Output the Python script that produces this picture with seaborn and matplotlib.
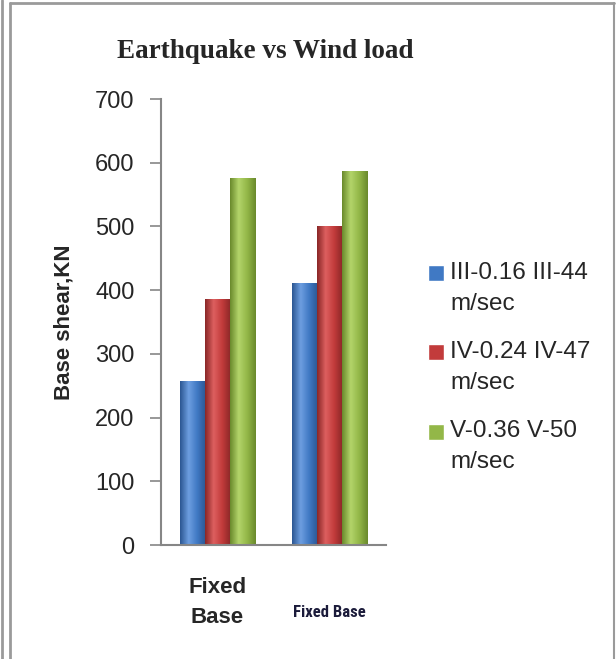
import numpy as np
import pandas as pd
import seaborn as sns
import matplotlib.pyplot as plt
from matplotlib.colors import LinearSegmentedColormap
from matplotlib.lines import Line2D
from matplotlib.patches import Rectangle
from matplotlib.legend_handler import HandlerPatch

# data
categories = ['Fixed\nBase', 'Fixed Base']
zones = ['III-0.16 III-44\nm/sec', 'IV-0.24 IV-47\nm/sec', 'V-0.36 V-50\nm/sec']
zone_iii = [257, 411]
zone_iv = [386, 500]
zone_v = [576, 587]
yticks = [0, 100, 200, 300, 400, 500, 600, 700]

colors = ['#4079c4', '#c23b3b', '#93b748']
dark = ['#2c5793', '#8a2727', '#6a8a2c']
light = ['#6d9ee0', '#dd5f5f', '#b3d46a']

df = pd.DataFrame({
    'base': categories * 3,
    'zone': [z for z in zones for _ in categories],
    'shear': zone_iii + zone_iv + zone_v,
})

sns.set_style('white')
plt.rcParams['font.family'] = ['Liberation Sans', 'DejaVu Sans']

fig = plt.figure(figsize=(6.16, 6.59), dpi=100)
ax = fig.add_axes([161 / 616, 1 - 545 / 659, 225 / 616, 446 / 659])

sns.barplot(data=df, x='base', y='shear', hue='zone', palette=colors,
            width=0.667, saturation=1, ax=ax, legend=True)
ax.set_ylim(0, 700)
ax.set_xlim(-0.5, 1.5)

# cylinder-ish shading on each bar
for i, p in enumerate(ax.patches[:6]):
    k = i // 2
    x0, y0 = p.get_x(), p.get_y()
    w, h = p.get_width(), p.get_height()
    cm = LinearSegmentedColormap.from_list('g', [dark[k], light[k], colors[k], dark[k]])
    grad = np.linspace(0, 1, 64).reshape(1, -1)
    im = ax.imshow(grad, extent=[x0, x0 + w, y0, y0 + h], cmap=cm,
                   aspect='auto', zorder=p.get_zorder() + 0.1)
    im.set_clip_path(p)
ax.set_ylim(0, 700)
ax.set_xlim(-0.5, 1.5)

ax.set_yticks(yticks)
ax.set_yticklabels([str(v) for v in yticks], fontsize=17)
ax.tick_params(axis='y', length=8, width=1.2, color='#868686', pad=11, left=True)
ax.tick_params(axis='x', length=0, pad=23)
ax.set_xticks([0, 1])
ax.set_xticklabels(categories)
lab = ax.get_xticklabels()
lab[0].set_fontsize(16)
lab[0].set_fontweight('bold')
lab[0].set_linespacing(1.55)
lab[1].set_family(['Roboto Condensed', 'Liberation Sans Narrow', 'Liberation Sans'])
lab[1].set_fontsize(12)
lab[1].set_fontweight('bold')
lab[1].set_color('#1b1b3a')
lab[1].set_y(-0.062)

for s in ['top', 'right']:
    ax.spines[s].set_visible(False)
for s in ['left', 'bottom']:
    ax.spines[s].set_color('#868686')
    ax.spines[s].set_linewidth(1.5)

ax.set_xlabel('')
ax.set_ylabel('Base shear,KN', fontsize=16, fontweight='bold', labelpad=15)

fig.text(265 / 616, 1 - 52 / 659, 'Earthquake vs Wind load', ha='center', va='center',
         fontsize=19.5, fontweight='bold', family=['Liberation Serif', 'DejaVu Serif'])


def top_square(legend, orig_handle, xdescent, ydescent, width, height, fontsize):
    return Rectangle((-xdescent, -ydescent + 0.62 * fontsize), width, height)


handles, labels = ax.get_legend_handles_labels()
ax.get_legend().remove()
leg = fig.legend(handles, labels, loc='upper left', bbox_to_anchor=(428 / 616, 1 - 262 / 659),
                 frameon=False, fontsize=17.5, handlelength=0.64, handleheight=0.64,
                 handletextpad=0.28, labelspacing=1.1, borderpad=0, borderaxespad=0,
                 handler_map={Rectangle: HandlerPatch(patch_func=top_square)})
for t in leg.get_texts():
    t.set_linespacing(1.5)

# frame around the chart area
gray = '#9a9a9a'
fig.add_artist(Line2D([2 / 616, 2 / 616], [0, 1], color=gray, lw=2))
fig.add_artist(Line2D([10 / 616, 10 / 616], [0, 1 - 3 / 659], color=gray, lw=2))
fig.add_artist(Line2D([10 / 616, 614 / 616], [1 - 3 / 659, 1 - 3 / 659], color=gray, lw=2))
fig.add_artist(Line2D([614 / 616, 614 / 616], [0, 1 - 3 / 659], color=gray, lw=1.5))

fig.savefig('out.png', dpi=100)
